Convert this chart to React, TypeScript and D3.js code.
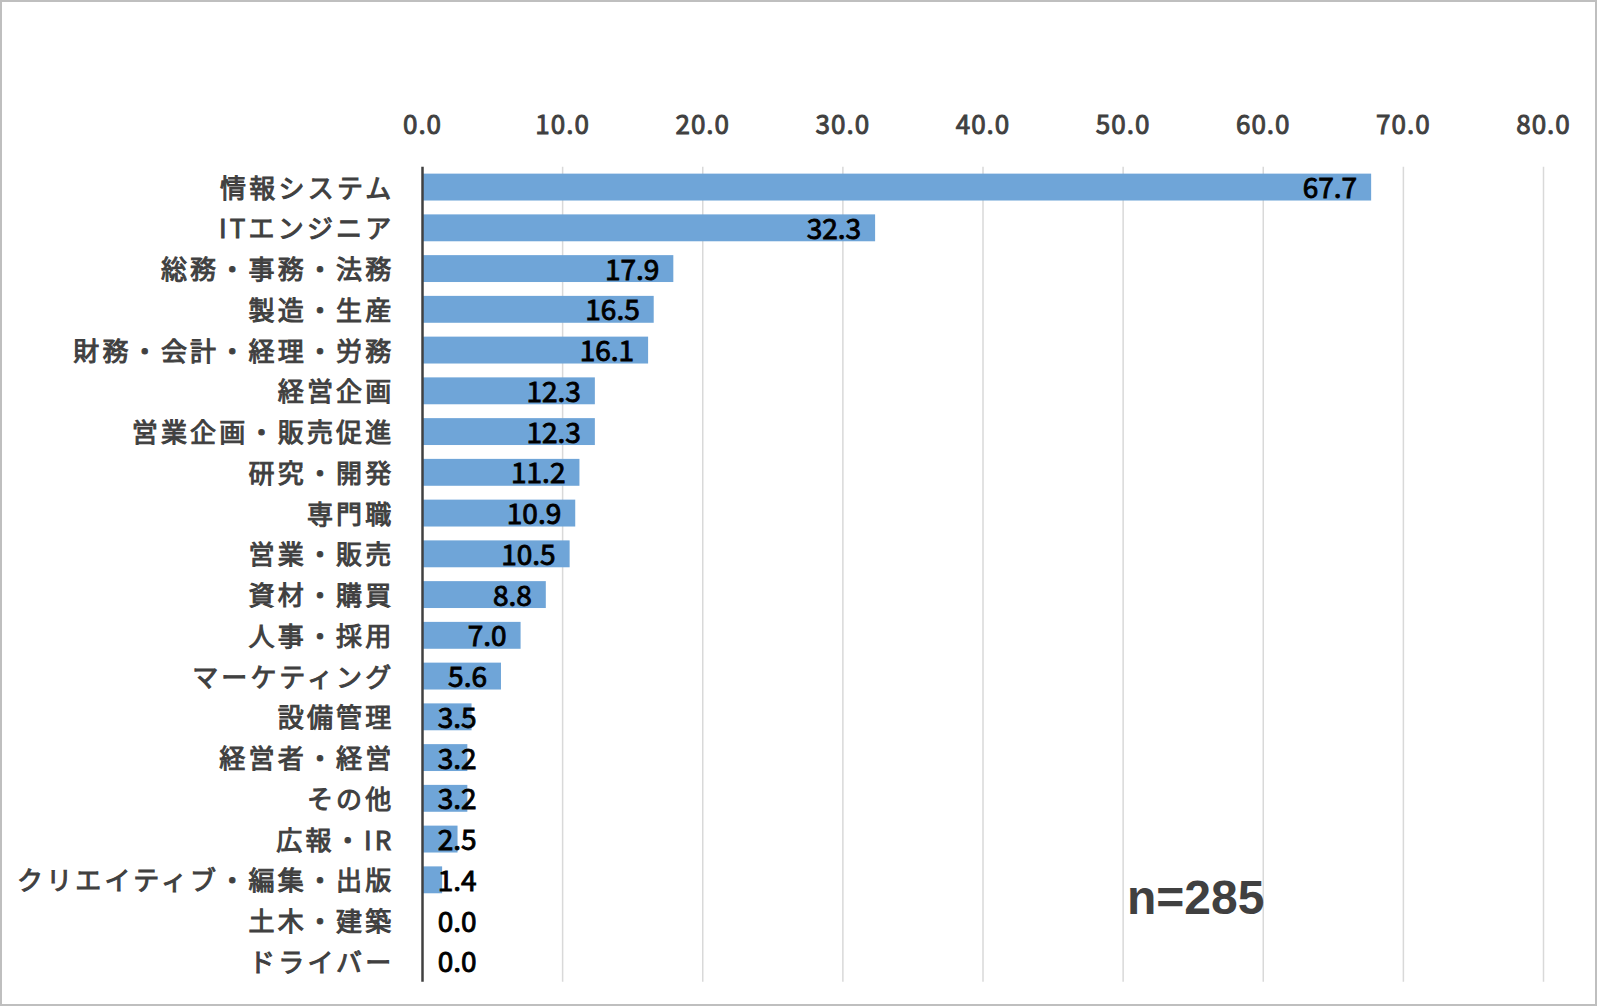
import React from "react";
import * as d3 from "d3";

const categories = [
  "情報システム",
  "ITエンジニア",
  "総務・事務・法務",
  "製造・生産",
  "財務・会計・経理・労務",
  "経営企画",
  "営業企画・販売促進",
  "研究・開発",
  "専門職",
  "営業・販売",
  "資材・購買",
  "人事・採用",
  "マーケティング",
  "設備管理",
  "経営者・経営",
  "その他",
  "広報・IR",
  "クリエイティブ・編集・出版",
  "土木・建築",
  "ドライバー",
];
const values = [67.7, 32.3, 17.9, 16.5, 16.1, 12.3, 12.3, 11.2, 10.9, 10.5, 8.8, 7.0, 5.6, 3.5, 3.2, 3.2, 2.5, 1.4, 0.0, 0.0];
const ticks = [0, 10, 20, 30, 40, 50, 60, 70, 80];
const sampleLabel = "n=285";

const W = 1597;
const H = 1006;
const FONT = "'Noto Sans CJK JP', 'Noto Sans', sans-serif";

export default function App() {
  const left = 422.5;
  const right = 1543.5;
  const top = 166.7;
  const bottom = 981.7;

  const x = d3.scaleLinear().domain([0, 80]).range([left, right]);
  const y = d3.scaleBand<string>().domain(categories).range([top, bottom]).paddingInner(0.34).paddingOuter(0.17);

  const labelW = 40;

  return (
    <svg width={W} height={H} style={{ position: "absolute", left: 0, top: 0 }} fontFamily={FONT}>
      <rect x={0} y={0} width={W} height={H} fill="#ffffff" />
      <rect x={1} y={1} width={W - 2} height={H - 2} fill="none" stroke="#bfbfbf" strokeWidth={2} />
      {ticks.slice(1).map((t) => (
        <line key={t} x1={x(t)} x2={x(t)} y1={top} y2={bottom} stroke="#d9d9d9" strokeWidth={1.5} />
      ))}
      {ticks.map((t) => (
        <text key={"t" + t} x={x(t)} y={122} textAnchor="middle" dominantBaseline="central" fontSize={26} letterSpacing={1} fontWeight={400} stroke="#404040" strokeWidth={0.9} fill="#404040">
          {d3.format(".1f")(t)}
        </text>
      ))}
      {categories.map((c, i) => {
        const yy = y(c)!;
        const bw = y.bandwidth();
        const end = x(values[i]);
        const lx = Math.max(end - 14, left + 14 + labelW);
        return (
          <g key={c}>
            <rect x={left} y={yy} width={end - left} height={bw} fill="#6fa5d8" />
            <text x={left - 28} y={yy + bw / 2 - 1} textAnchor="end" dominantBaseline="central" fontSize={26} letterSpacing={3.2} fontWeight={400} stroke="#404040" strokeWidth={1} fill="#404040">
              {c}
            </text>
            <text x={lx} y={yy + bw / 2 - 1} textAnchor="end" dominantBaseline="central" fontSize={28} fontWeight={400} stroke="#000000" strokeWidth={0.9} fill="#000000">
              {d3.format(".1f")(values[i])}
            </text>
          </g>
        );
      })}
      <line x1={left} x2={left} y1={top} y2={bottom} stroke="#404040" strokeWidth={2.5} />
      <text x={1127} y={897} dominantBaseline="central" fontSize={48} fontWeight={700} fill="#404040" fontFamily="'Liberation Sans', Arial, sans-serif">
        {sampleLabel}
      </text>
    </svg>
  );
}
